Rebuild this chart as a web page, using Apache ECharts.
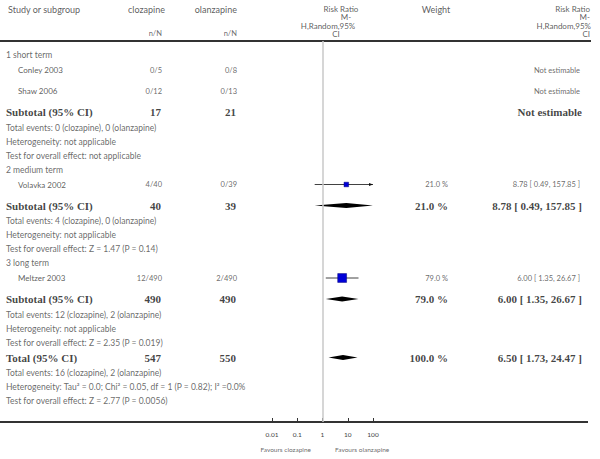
<!DOCTYPE html>
<html>
<head>
<meta charset="utf-8">
<script src="https://cdn.jsdelivr.net/npm/echarts@6.0.0/dist/echarts.min.js"></script>
<style>
  html, body { margin: 0; padding: 0; background: #fff; }
  #chart { width: 600px; height: 459px; }
</style>
</head>
<body>
<div id="chart"></div>
<script>
// ---- data ----
const groupNames = ['1 short term', '2 medium term', '3 long term'];
const studyNames = ['Conley 2003', 'Shaw 2006', 'Volavka 2002', 'Meltzer 2003'];
const studyGroup = [0, 0, 1, 2];
const clozEvents = [0, 0, 4, 12];
const clozTotal = [5, 12, 40, 490];
const olanEvents = [0, 0, 0, 2];
const olanTotal = [8, 13, 39, 490];
const studyRR = [null, null, 8.78, 6.00];
const studyLo = [null, null, 0.49, 1.35];
const studyHi = [null, null, 157.85, 26.67];
const studyWeight = [null, null, 21.0, 79.0];

const subClozTotal = [17, 40, 490];
const subOlanTotal = [21, 39, 490];
const subClozEvents = [0, 4, 12];
const subOlanEvents = [0, 0, 2];
const subRR = [null, 8.78, 6.00];
const subLo = [null, 0.49, 1.35];
const subHi = [null, 157.85, 26.67];
const subWeight = [null, 21.0, 79.0];
const subHet = ['not applicable', 'not applicable', 'not applicable'];
const subTest = ['not applicable', 'Z = 1.47 (P = 0.14)', 'Z = 2.35 (P = 0.019)'];

const totClozTotal = 547, totOlanTotal = 550;
const totClozEvents = 16, totOlanEvents = 2;
const totRR = 6.50, totLo = 1.73, totHi = 24.47, totWeight = 100.0;
const totHet = 'Tau\u00b2 = 0.0; Chi\u00b2 = 0.05, df = 1 (P = 0.82); I\u00b2 =0.0%';
const totTest = 'Z = 2.77 (P = 0.0056)';

const tickValues = [0.01, 0.1, 1, 10, 100];
const tickLabels = ['0.01', '0.1', '1', '10', '100'];

// ---- layout ----
const W = 600, H = 459;
const ruleY = 41, axisY = 422;
const col = { label: 6, study: 18, cloz: 162, olan: 237, weight: 448, rr: 580 };
const gapAfter = { rule: 14, group: 15, study: 21, sub: 15.5, text: 14 };
const gapBefore = { total: 15 };

const sans = 'Lato, "Open Sans", sans-serif';
const st = {
  head: { fontSize: 9, fontFamily: sans, color: '#333' },
  stack: { fontSize: 8, lineHeight: 8, fontFamily: sans, color: '#333' },
  name: { fontSize: 8, fontFamily: sans, color: '#333' },
  info: { fontSize: 8.5, fontFamily: sans, color: '#444' },
  small: { fontSize: 7.5, fontFamily: sans, color: '#444' },
  bold: { fontSize: 11, fontFamily: '"Liberation Serif", serif', fontWeight: 'bold', color: '#111' },
  tick: { fontSize: 6.5, fontFamily: sans, color: '#444' },
  fav: { fontSize: 6.5, fontFamily: sans, color: '#444' }
};

const fmtCI = (rr, lo, hi) => rr == null ? 'Not estimable'
  : rr.toFixed(2) + ' [ ' + lo.toFixed(2) + ', ' + hi.toFixed(2) + ' ]';
const fmtW = w => w == null ? '' : w.toFixed(1) + ' %';

// build rows top to bottom
const rows = [];
groupNames.forEach((g, gi) => {
  rows.push({ type: 'group', text: g });
  studyNames.forEach((s, i) => {
    if (studyGroup[i] === gi) rows.push({ type: 'study', i });
  });
  rows.push({ type: 'sub', gi });
  rows.push({ type: 'text', text: 'Total events: ' + subClozEvents[gi] + ' (clozapine), ' + subOlanEvents[gi] + ' (olanzapine)' });
  rows.push({ type: 'text', text: 'Heterogeneity: ' + subHet[gi] });
  rows.push({ type: 'text', text: 'Test for overall effect: ' + subTest[gi] });
});
rows.push({ type: 'total' });
rows.push({ type: 'text', text: 'Total events: ' + totClozEvents + ' (clozapine), ' + totOlanEvents + ' (olanzapine)' });
rows.push({ type: 'text', text: 'Heterogeneity: ' + totHet });
rows.push({ type: 'text', text: 'Test for overall effect: ' + totTest });

let y = ruleY, prev = 'rule';
rows.forEach(r => {
  const key = r.type === 'total' ? 'sub' : r.type;
  y += r.type === 'total' ? gapBefore.total : gapAfter[prev];
  r.y = y;
  prev = key;
});

// ---- text items ----
const texts = [];
const T = (x, yy, text, align, style) => texts.push({
  value: [x, yy],
  label: Object.assign({ show: true, position: 'inside', align, verticalAlign: 'middle', formatter: text }, style)
});

// header
T(8, 9, 'Study or subgroup', 'left', st.head);
T(165, 9, 'clozapine', 'right', st.head);
T(237, 9, 'olanzapine', 'right', st.head);
T(col.cloz, 33, 'n/N', 'right', st.small);
T(col.olan, 33, 'n/N', 'right', st.small);
T(341, 8.5, 'Risk Ratio', 'center', st.stack);
T(346, 17, 'M-', 'center', st.stack);
T(328, 25.5, 'H,Random,95%', 'center', st.stack);
T(336, 34, 'CI', 'center', st.stack);
T(436, 9, 'Weight', 'center', st.head);
T(590, 8.5, 'Risk Ratio', 'right', st.stack);
T(590, 17, 'M-', 'right', st.stack);
T(591, 25.5, 'H,Random,95%', 'right', st.stack);
T(590, 34, 'CI', 'right', st.stack);

const studyMarks = [], diamonds = [];
rows.forEach(r => {
  if (r.type === 'group' || r.type === 'text') T(col.label, r.y, r.text, 'left', st.info);
  else if (r.type === 'study') {
    const i = r.i;
    T(col.study, r.y, studyNames[i], 'left', st.name);
    T(col.cloz, r.y, clozEvents[i] + '/' + clozTotal[i], 'right', st.small);
    T(col.olan, r.y, olanEvents[i] + '/' + olanTotal[i], 'right', st.small);
    T(col.weight, r.y, fmtW(studyWeight[i]), 'right', st.small);
    T(col.rr, r.y, fmtCI(studyRR[i], studyLo[i], studyHi[i]), 'right', st.small);
    if (studyRR[i] != null) studyMarks.push([studyRR[i], studyLo[i], studyHi[i], studyWeight[i], r.y]);
  } else if (r.type === 'sub') {
    const g = r.gi;
    T(col.label, r.y, 'Subtotal (95% CI)', 'left', st.bold);
    T(col.cloz - 1, r.y, String(subClozTotal[g]), 'right', st.bold);
    T(col.olan - 1, r.y, String(subOlanTotal[g]), 'right', st.bold);
    T(col.weight, r.y, fmtW(subWeight[g]), 'right', st.bold);
    T(col.rr + 2, r.y, fmtCI(subRR[g], subLo[g], subHi[g]), 'right', st.bold);
    if (subRR[g] != null) diamonds.push([subRR[g], subLo[g], subHi[g], r.y]);
  } else if (r.type === 'total') {
    T(col.label, r.y, 'Total (95% CI)', 'left', st.bold);
    T(col.cloz - 1, r.y, String(totClozTotal), 'right', st.bold);
    T(col.olan - 1, r.y, String(totOlanTotal), 'right', st.bold);
    T(col.weight, r.y, fmtW(totWeight), 'right', st.bold);
    T(col.rr + 2, r.y, fmtCI(totRR, totLo, totHi), 'right', st.bold);
    diamonds.push([totRR, totLo, totHi, r.y]);
  }
});
T(311, 449, 'Favours clozapine', 'right', st.fav);
T(335, 449, 'Favours olanzapine', 'left', st.fav);

// ---- chart ----
const xMin = tickValues[0], xMax = tickValues[tickValues.length - 1];
const chart = echarts.init(document.getElementById('chart'), null, { renderer: 'svg' });

chart.setOption({
  animation: false,
  backgroundColor: '#fff',
  grid: [
    { left: 272, right: W - 373, top: ruleY, bottom: H - axisY },
    { left: 0, right: 0, top: 0, bottom: 0 }
  ],
  xAxis: [
    {
      gridIndex: 0, type: 'log', logBase: 10, min: xMin, max: xMax,
      axisLine: { show: false },
      axisTick: { show: true, inside: true, length: 4, lineStyle: { color: '#333', width: 1 } },
      axisLabel: Object.assign({
        margin: 9,
        formatter: v => tickLabels[tickValues.findIndex(t => Math.abs(Math.log10(t / v)) < 1e-6)]
      }, st.tick),
      splitLine: { show: false },
      minorTick: { show: false }
    },
    { gridIndex: 1, type: 'value', min: 0, max: W, show: false }
  ],
  yAxis: [
    { gridIndex: 0, type: 'value', min: ruleY, max: axisY, inverse: true, show: false },
    { gridIndex: 1, type: 'value', min: 0, max: H, inverse: true, show: false }
  ],
  series: [
    {
      // rules: header line and bottom axis line
      type: 'line', xAxisIndex: 1, yAxisIndex: 1, data: [], silent: true,
      markLine: {
        symbol: 'none', silent: true, label: { show: false },
        lineStyle: { color: '#333', width: 2, type: 'solid' },
        data: [
          [{ coord: [0, ruleY] }, { coord: [591, ruleY] }],
          [{ coord: [0, axisY] }, { coord: [588, axisY] }]
        ]
      }
    },
    {
      // study CI lines and weighted squares
      type: 'custom', xAxisIndex: 0, yAxisIndex: 0, silent: true,
      data: studyMarks,
      encode: { x: [0, 1, 2], y: 4 },
      markLine: {
        symbol: 'none', silent: true, label: { show: false },
        lineStyle: { color: '#c8c8c8', width: 1.5, type: 'solid' },
        data: [{ xAxis: 1 }]
      },
      renderItem: (params, api) => {
        const yy = api.value(4);
        const c = api.coord([api.value(0), yy]);
        const l = api.coord([api.value(1), yy]);
        const hiV = api.value(2);
        const h = api.coord([Math.min(hiV, xMax), yy]);
        const s = Math.sqrt(api.value(3));
        const children = [
          { type: 'line', shape: { x1: l[0], y1: c[1], x2: h[0], y2: c[1] }, style: { stroke: '#111', lineWidth: 0.8 } }
        ];
        if (hiV > xMax) {
          children.push({ type: 'polygon', shape: { points: [[h[0], c[1]], [h[0] - 4, c[1] - 1.6], [h[0] - 4, c[1] + 1.6]] }, style: { fill: '#111' } });
        }
        children.push({ type: 'rect', shape: { x: c[0] - s / 2, y: c[1] - s / 2, width: s, height: s }, style: { fill: '#0000d8', stroke: '#00007a', lineWidth: 0.5 } });
        return { type: 'group', children };
      }
    },
    {
      // pooled diamonds
      type: 'custom', xAxisIndex: 0, yAxisIndex: 0, silent: true,
      data: diamonds,
      encode: { x: [0, 1, 2], y: 3 },
      renderItem: (params, api) => {
        const yy = api.value(3);
        const c = api.coord([api.value(0), yy]);
        const l = api.coord([Math.max(api.value(1), xMin), yy]);
        const h = api.coord([Math.min(api.value(2), xMax), yy]);
        const hh = 2.6;
        return {
          type: 'polygon',
          shape: { points: [[l[0], c[1]], [c[0], c[1] - hh], [h[0], c[1]], [c[0], c[1] + hh]] },
          style: { fill: '#000' }
        };
      }
    },
    {
      // all table text
      type: 'scatter', xAxisIndex: 1, yAxisIndex: 1, silent: true,
      symbolSize: 0.1, itemStyle: { color: 'transparent' },
      data: texts
    }
  ]
});
</script>
</body>
</html>
